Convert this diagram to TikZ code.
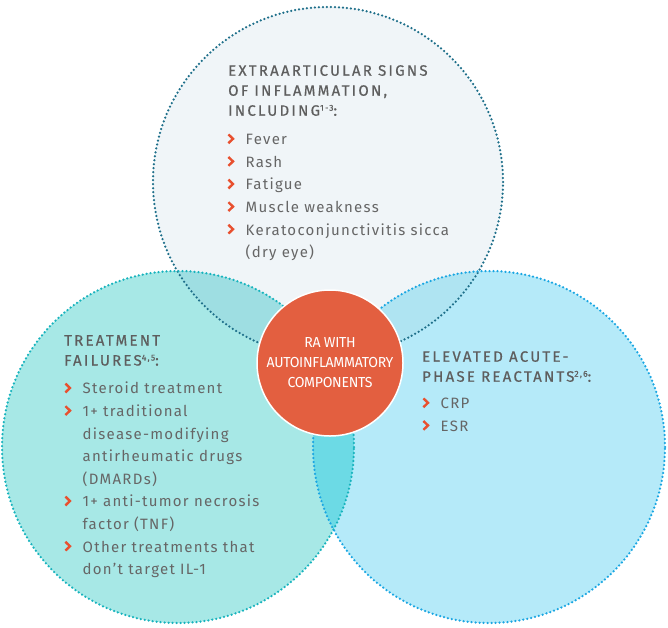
\documentclass[tikz,border=0pt]{standalone}
\usepackage{fontspec}
\setmainfont{Fira Sans}
\newfontfamily\bodyfont{Fira Sans}[LetterSpace=8.5]
\newfontfamily\headfont{Fira Sans}[LetterSpace=15,FakeBold=0.6]
\newfontfamily\rafont{Fira Sans}[LetterSpace=-2,FakeStretch=0.97]
\definecolor{topfill}{HTML}{F0F5F8}
\definecolor{topline}{HTML}{1E6F8A}
\definecolor{leftfill}{HTML}{A7E8E6}
\definecolor{leftline}{HTML}{17B3BD}
\definecolor{rightfill}{HTML}{B5EAF9}
\definecolor{rightline}{HTML}{1AA6E2}
\definecolor{tlfill}{HTML}{9EDEE2}
\definecolor{trfill}{HTML}{AFE4F2}
\definecolor{lrfill}{HTML}{6CDAE5}
\definecolor{redc}{HTML}{E35F40}
\definecolor{txt}{HTML}{5E5E5E}
\definecolor{bodytxt}{HTML}{666666}
\definecolor{chevc}{HTML}{E8502F}
\newcommand\chv{\makebox[18.5pt][l]{\tikz[baseline=0pt,x=1pt,y=1pt]\draw[draw=chevc,line width=2.4pt,line join=miter,line cap=butt](0.6,10.3)--(5.2,5.9)--(0.6,1.5);}}
\newcommand\ind{\makebox[18.5pt][l]{}}
\newcommand\sups[1]{\raisebox{5pt}{\fontsize{8.5}{8.5}\selectfont #1}}
\tikzset{
  dots/.style={line width=2.5pt,line cap=round,dash pattern=on 0pt off 4pt},
  head/.style={anchor=north west,inner sep=0pt,align=left,text=txt,font=\headfont\fontsize{15}{20}\selectfont},
  blist/.style={anchor=north west,inner sep=0pt,align=left,text=bodytxt,font=\bodyfont\fontsize{15}{22.6}\selectfont},
}
\begin{document}
\begin{tikzpicture}[x=1pt,y=-1pt]
\useasboundingbox (0,0) rectangle (668,627);
\coordinate (T) at (328,182);
\coordinate (L) at (178,447);
\coordinate (R) at (489,447);
% fills
\fill[topfill] (T) circle (175pt);
\fill[leftfill] (L) circle (176pt);
\fill[rightfill] (R) circle (176pt);
\begin{scope}
  \clip (T) circle (175pt);
  \fill[tlfill] (L) circle (176pt);
  \fill[trfill] (R) circle (176pt);
\end{scope}
\begin{scope}
  \clip (L) circle (176pt);
  \fill[lrfill] (R) circle (176pt);
\end{scope}
% borders
\draw[dots,topline] (T) circle (175pt);
\draw[dots,leftline] (L) circle (176pt);
\draw[dots,rightline] (R) circle (176pt);
% centre
\node[circle,fill=redc,draw=white,line width=1.5pt,minimum size=146pt,inner sep=0pt,
      text=white,align=center,font=\rafont\fontsize{14.5}{20}\selectfont] (ra) at (330,363)
  {RA WITH\\AUTOINFLAMMATORY\\COMPONENTS};
% top text
\node[head] (th) at (228,65) {EXTRAARTICULAR SIGNS\\OF INFLAMMATION,\\INCLUDING\sups{1-3}:};
\node[blist] (tl) at (227,133) {\chv Fever\\\chv Rash\\\chv Fatigue\\\chv Muscle weakness\\\chv Keratoconjunctivitis sicca\\\ind (dry eye)};
% left text
\node[head] (lh) at (64,335) {TREATMENT\\FAILURES\sups{4,5}:};
\node[blist] (ll) at (64,382) {\chv Steroid treatment\\\chv 1+ traditional\\\ind disease-modifying\\\ind antirheumatic drugs\\\ind (DMARDs)\\\chv 1+ anti-tumor necrosis\\\ind factor (TNF)\\\chv Other treatments that\\\ind don’t target IL-1};
% right text
\node[head] (rh) at (422,351) {ELEVATED ACUTE-\\PHASE REACTANTS\sups{2,6}:};
\node[blist] (rl) at (422,397) {\chv CRP\\\chv ESR};
\end{tikzpicture}
\end{document}
